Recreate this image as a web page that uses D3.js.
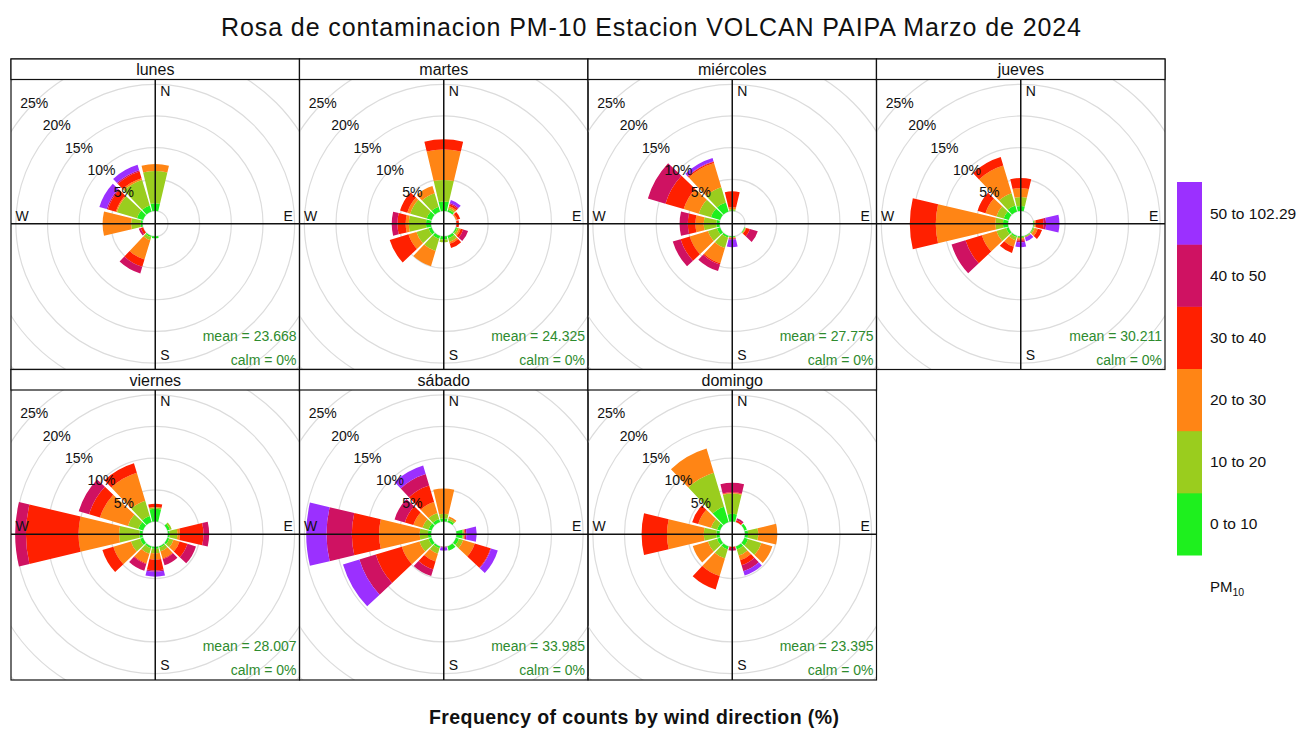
<!DOCTYPE html>
<html><head><meta charset="utf-8">
<script src="https://cdn.jsdelivr.net/npm/d3@7"></script>
<style>
body{margin:0;background:#fff}
svg{display:block}
text{font-family:"Liberation Sans",Arial,Helvetica,sans-serif}
</style>
</head><body>
<svg id="chart" width="1313" height="733"></svg>
<script>
// ---------------- DATA ----------------
const titleText = "Rosa de contaminacion PM-10 Estacion VOLCAN PAIPA Marzo de 2024";
const footerText = "Frequency of counts by wind direction (%)";
const days = ["lunes","martes","miércoles","jueves","viernes","sábado","domingo"];
const directions = [0,30,60,90,120,150,180,210,240,270,300,330];
const binLabels = ["0 to 10","10 to 20","20 to 30","30 to 40","40 to 50","50 to 102.29"];
const binColors = ["#1EF01E","#9ACD1E","#FF8515","#FF2000","#CF1262","#9B30FF"];
const ringTicks = [5,10,15,20,25];
const meanValues = ["23.668","24.325","27.775","30.211","28.007","33.985","23.395"];
const calmValues = ["0%","0%","0%","0%","0%","0%","0%"];

// frequency (%) per direction (rows: 0..330 deg) per PM10 bin (columns)
const freqLunes = [
  [1.2,5.1,1.1,0,0,0],[0,0,0,0,0,0],[0,0,0,0,0,0],[0,0,0,0,0,0],
  [0,0,0,0,0,0],[0,0,0,0,0,0],[0.3,0,0,0,0,0],[0.2,0.5,3.2,1.2,1.1,0],
  [0,0,0,0.4,0.3,0],[0.3,1.5,4.5,0,0,0],[1.0,3.3,0.2,1.3,0.2,1.2],[1.0,4.2,0.3,1.1,0.2,0.9]
];
const freqMartes = [
  [1.5,3.4,4.8,1.6,0,0],[0.3,0.3,0.3,0.3,0.2,0.5],[0,0,0.2,0.5,0,0],[0,0,0,0.4,0,0],
  [0.2,0.3,0.3,0.4,0.8,0],[0.4,0.6,0.3,0.7,0,0],[0.5,0.4,0,0,0,0],[0.5,2.0,2.5,0,0,0],
  [0.5,2.0,1.3,3.1,0,0],[0.8,2.7,0.5,1.3,0.9,0],[0.8,2.7,0.5,1.2,0,0],[0.8,2.2,1.2,0,0,0]
];
const freqMiercoles = [
  [0.1,0.2,0.3,2.5,0,0],[0,0,0,0,0,0],[0,0,0,0,0,0],[0,0,0,0,0,0],
  [0.1,0.1,0.1,0.6,1.3,0],[0,0,0,0,0,0],[0.1,0.1,0.1,0.1,0.1,1.2],[0.3,1.7,2.5,0.2,1.1,0],
  [0.5,1.5,3.0,1.5,1.3,0],[0.5,2.0,1.3,1.2,1.3,0],[1.5,2.0,2.5,3.0,2.9,0],[1.5,2.5,4.0,0.2,0.1,0.5]
];
const freqJueves = [
  [0.8,1.4,1.4,1.6,0,0],[0,0,0,0,0,0],[0,0,0,0,0,0],[0.1,0.1,0.2,1.2,0.4,2.1],
  [0.1,0.2,0.5,0.7,0,0],[0.1,0.1,0,0.1,0,0.6],[0.1,0.2,0.2,0.2,0.2,0.8],[0.2,0.5,1.1,1.0,0,0],
  [0.4,1.6,2.4,2.7,2.3,0],[0.8,1.2,9.4,4.1,0,0],[0.8,1.2,1.8,1.3,0,0],[1.0,2.0,4.6,1.4,0,0]
];
const freqViernes = [
  [2.0,0.2,0.1,0.5,0,0],[0,0,0,0,0,0],[0.4,0.3,0,0,0,0],[0.3,1.2,0.4,3.7,0.9,0],
  [0.3,0.7,1.0,1.3,1.4,0],[0.2,0.6,1.2,0.1,1.0,0],[0.3,0.7,1.0,1.7,0.2,0.8],[0.3,0.9,1.6,0.1,1.1,0],
  [0.5,1.5,2.9,1.8,0,0],[0.5,3.2,6.4,8.3,1.7,0],[0.8,1.7,4.6,1.8,1.7,0],[1.0,2.5,4.6,1.6,0,0]
];
const freqSabado = [
  [0.5,0.7,4.0,0,0,0],[0.3,0.3,0.3,0,0,0],[0,0,0,0,0,0],[1.0,0.2,0.1,0.1,0.2,1.6],
  [0.5,0.7,1.9,2.6,0.1,1.1],[0.7,0,0,0,0,0],[0,0,0,0,0.1,0.5],[0.3,0.9,1.3,1.3,1.1,0],
  [0.5,1.5,2.9,4.3,2.7,2.7],[0.5,1.3,6.4,4.3,4.0,3.2],[0.5,1.0,1.5,1.4,1.7,0],[0.5,1.0,1.8,2.7,1.9,1.4]
];
const freqDomingo = [
  [1.2,3.2,0.1,0.1,1.5,0],[0,0,0,0.3,0.3,0],[0.4,0,0,0,0,0],[0.5,1.6,3.0,0,0,0],
  [0.6,2.2,1.8,0,0,0],[0.5,1.0,0.8,0.8,1.0,0.7],[0,0,0,0.2,0.4,0],[0.5,1.5,2.9,2.2,0,0],
  [0.5,1.5,2.5,0,0,0],[0.5,2.0,5.8,4.0,0,0],[0.5,1.0,2.1,1.0,0,0],[2.5,5.6,4.0,0,0,0]
];
const dayFreqs = [freqLunes,freqMartes,freqMiercoles,freqJueves,freqViernes,freqSabado,freqDomingo];

// ---------------- LAYOUT ----------------
const svg = d3.select("#chart");
const leftX = 11, topY = 59, pw = 288.5, rowH = 310.5, stripH = 20.5;
const maxFreq = d3.max(dayFreqs, f => d3.max(f, d => d3.sum(d)));
const R = (pw / 2) / 1.03;          // radius of max frequency + offset
const off = R * 0.1 / 1.1;           // central hole (10% of max)
const r = d3.scaleLinear().domain([0, maxFreq]).range([off, R]);
const halfSector = 15, gap = 1.7;
const rad = Math.PI / 180;
const arc = d3.arc();
const defs = svg.append("defs");

// title
svg.append("text").attr("x", 651).attr("y", 36).attr("text-anchor", "middle")
  .attr("font-size", 25).attr("textLength", 860).attr("lengthAdjust", "spacing")
  .attr("fill", "#111").text(titleText);

days.forEach((day, i) => {
  const col = i % 4, row = Math.floor(i / 4);
  const x0 = leftX + col * pw, y0 = topY + row * rowH;
  const py0 = y0 + stripH, ph = rowH - stripH;
  const cx = x0 + pw / 2, cy = py0 + ph / 2 - 0.8;
  const g = svg.append("g");

  defs.append("clipPath").attr("id", "clip" + i).append("rect")
    .attr("x", x0).attr("y", py0).attr("width", pw).attr("height", ph);
  const pg = g.append("g").attr("clip-path", `url(#clip${i})`);

  // grid rings
  pg.selectAll("circle.ring").data(d3.range(0, 45, 5)).join("circle")
    .attr("cx", cx).attr("cy", cy).attr("r", d => r(d))
    .attr("fill", "none").attr("stroke", "#DCDCDC").attr("stroke-width", 1.2);

  // stacked sectors
  const segs = [];
  dayFreqs[i].forEach((vals, j) => {
    let cum = 0;
    vals.forEach((v, b) => {
      if (v > 0) segs.push({dir: directions[j], a: cum, b: cum + v, bin: b});
      cum += v;
    });
  });
  pg.selectAll("path.seg").data(segs).join("path")
    .attr("transform", `translate(${cx},${cy})`)
    .attr("d", s => arc({innerRadius: r(s.a), outerRadius: r(s.b),
      startAngle: (s.dir - halfSector + gap) * rad, endAngle: (s.dir + halfSector - gap) * rad}))
    .attr("fill", s => binColors[s.bin]);

  // axes
  pg.append("line").attr("x1", x0).attr("x2", x0 + pw).attr("y1", cy).attr("y2", cy)
    .attr("stroke", "#111").attr("stroke-width", 1.5);
  pg.append("line").attr("x1", cx).attr("x2", cx).attr("y1", py0).attr("y2", py0 + ph)
    .attr("stroke", "#111").attr("stroke-width", 1.5);

  // ring labels along 315 deg
  pg.selectAll("text.rl").data(ringTicks).join("text")
    .attr("x", d => cx - r(d) * Math.sin(45 * rad))
    .attr("y", d => cy - r(d) * Math.cos(45 * rad))
    .attr("text-anchor", "middle").attr("dominant-baseline", "central")
    .attr("font-size", 14).attr("fill", "#111").text(d => d + "%");

  // compass labels
  const lr = 0.95 * R;
  pg.append("text").attr("x", cx + 5).attr("y", cy - lr).attr("dominant-baseline", "central")
    .attr("font-size", 14).attr("fill", "#111").text("N");
  pg.append("text").attr("x", cx + 5).attr("y", cy + lr - 2).attr("dominant-baseline", "central")
    .attr("font-size", 14).attr("fill", "#111").text("S");
  pg.append("text").attr("x", cx - lr).attr("y", cy - 3).attr("text-anchor", "middle")
    .attr("font-size", 14).attr("fill", "#111").text("W");
  pg.append("text").attr("x", cx + lr).attr("y", cy - 3).attr("text-anchor", "middle")
    .attr("font-size", 14).attr("fill", "#111").text("E");

  // mean / calm
  g.append("text").attr("x", x0 + pw - 3).attr("y", py0 + ph - 29).attr("text-anchor", "end")
    .attr("font-size", 14).attr("fill", "#2E8B2E").text("mean = " + meanValues[i]);
  g.append("text").attr("x", x0 + pw - 3).attr("y", py0 + ph - 5).attr("text-anchor", "end")
    .attr("font-size", 14).attr("fill", "#2E8B2E").text("calm = " + calmValues[i]);

  // borders & strip
  g.append("rect").attr("x", x0).attr("y", y0).attr("width", pw).attr("height", rowH)
    .attr("fill", "none").attr("stroke", "#111").attr("stroke-width", 1.2);
  g.append("rect").attr("x", x0).attr("y", y0).attr("width", pw).attr("height", stripH)
    .attr("fill", "#fff").attr("stroke", "#111").attr("stroke-width", 1.2);
  g.append("text").attr("x", cx).attr("y", y0 + stripH / 2 + 0.5).attr("text-anchor", "middle")
    .attr("dominant-baseline", "central").attr("font-size", 16).attr("fill", "#111").text(day);
});

// footer
svg.append("text").attr("x", 634).attr("y", 724).attr("text-anchor", "middle")
  .attr("font-size", 19.5).attr("font-weight", "bold").attr("textLength", 410)
  .attr("lengthAdjust", "spacing").attr("fill", "#111").text(footerText);

// legend
const ly = d3.scaleBand().domain(binLabels.slice().reverse()).range([182, 555]).padding(0);
const lg = svg.append("g");
lg.selectAll("rect").data(binLabels).join("rect")
  .attr("x", 1177).attr("y", d => ly(d)).attr("width", 25).attr("height", ly.bandwidth() + 0.5)
  .attr("fill", (d, k) => binColors[k]);
lg.selectAll("text.ll").data(binLabels).join("text")
  .attr("x", 1210).attr("y", d => ly(d) + ly.bandwidth() / 2)
  .attr("dominant-baseline", "central").attr("font-size", 15.5).attr("fill", "#111").text(d => d);
const pm = lg.append("text").attr("x", 1210).attr("y", 592).attr("font-size", 15).attr("fill", "#111");
pm.append("tspan").text("PM");
pm.append("tspan").attr("font-size", 10.5).attr("dy", 4).text("10");
</script>
</body></html>
